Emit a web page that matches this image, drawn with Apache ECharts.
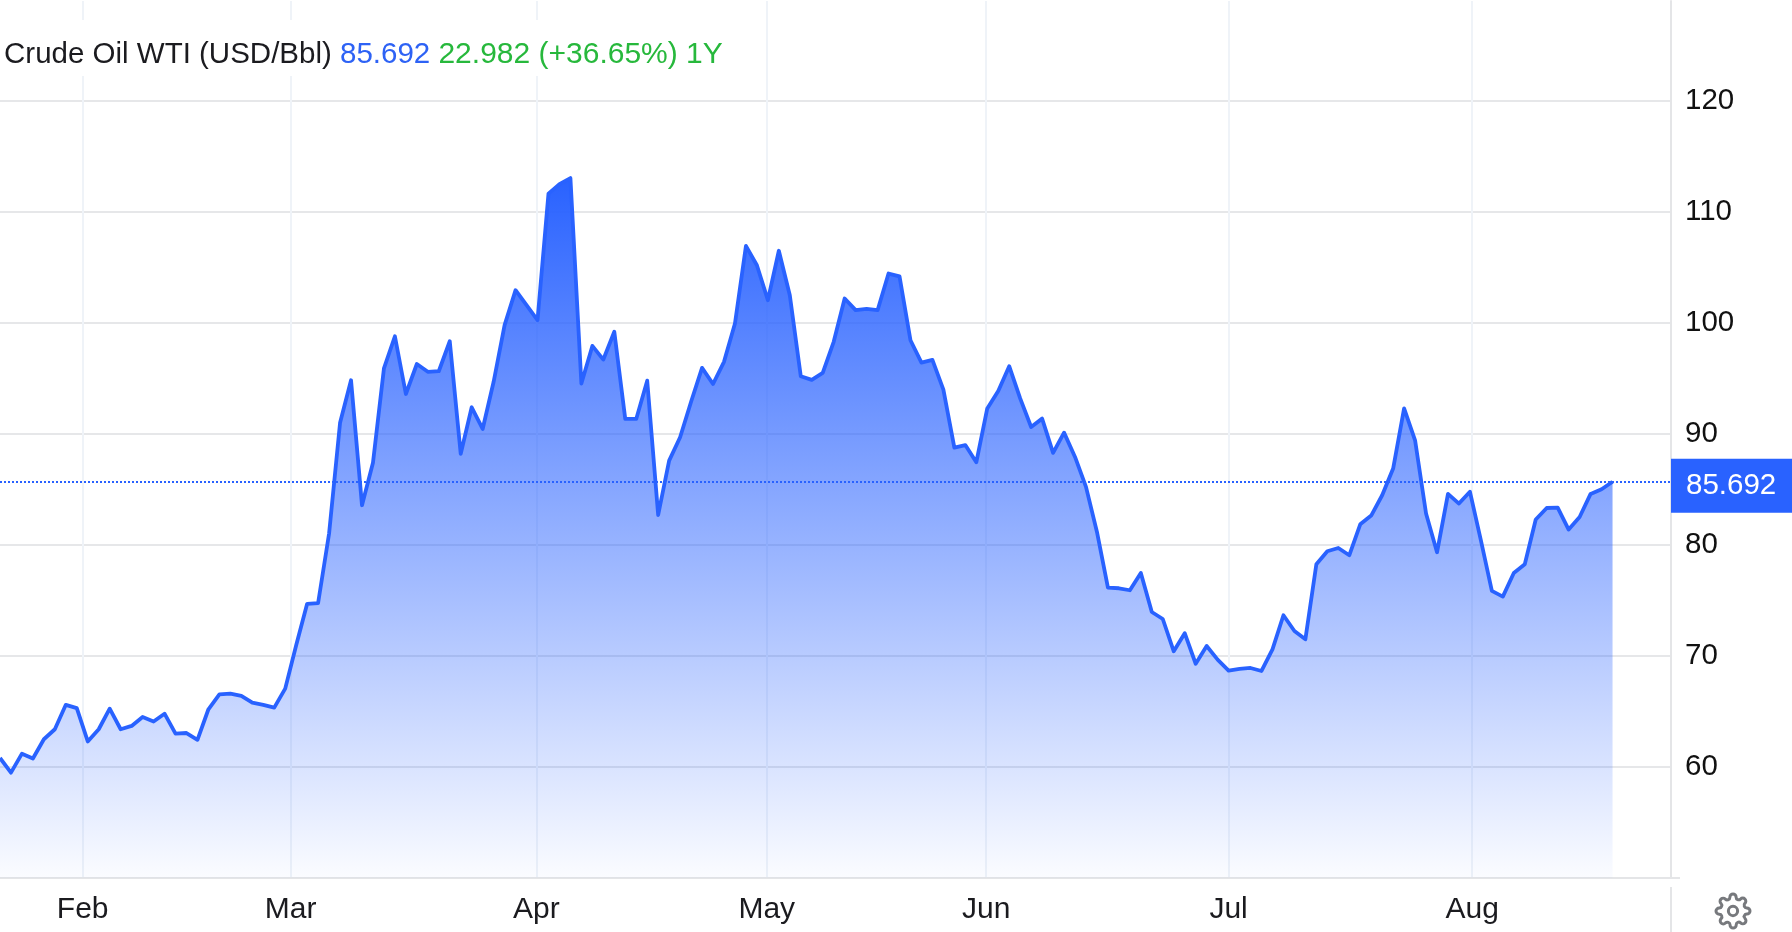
<!DOCTYPE html>
<html>
<head>
<meta charset="utf-8">
<style>html,body{margin:0;padding:0;background:#fff;}#c{width:1792px;height:932px;}</style>
<script src="https://cdn.jsdelivr.net/npm/echarts@6/dist/echarts.min.js"></script>
</head>
<body>
<div id="c"></div>
<script>
const prices = [
60.81,59.49,61.2,60.76,62.5,63.4,65.6,65.3,62.3,63.4,65.25,63.4,63.7,64.5,64.1,64.8,63.0,63.06,62.45,65.2,
66.55,66.6,66.4,65.8,65.6,65.35,67.06,70.96,74.7,74.77,81.03,91.0,94.84,83.58,87.4,95.9,98.8,93.6,96.3,95.6,
95.65,98.35,88.2,92.4,90.45,94.7,99.8,102.95,101.6,100.25,111.65,112.5,113.05,94.54,97.93,96.7,99.2,91.35,91.35,94.8,
82.7,87.6,89.7,92.9,95.95,94.5,96.5,99.95,106.94,105.2,102.05,106.5,102.5,95.2,94.87,95.5,98.3,102.2,101.15,101.27,
101.15,104.45,104.2,98.44,96.43,96.67,94.0,88.77,89.0,87.45,92.3,93.87,96.1,93.2,90.63,91.38,88.3,90.12,87.93,85.23,
81.17,76.16,76.1,75.92,77.48,73.96,73.33,70.42,72.05,69.3,70.9,69.67,68.68,68.83,68.92,68.65,70.6,73.67,72.25,71.5,
78.26,79.43,79.73,79.07,81.86,82.65,84.48,86.88,92.3,89.43,82.83,79.34,84.6,83.73,84.8,80.42,75.86,75.35,77.48,78.26,
82.29,83.33,83.37,81.39,82.52,84.6,85.02,85.692
];
const monthLabels = ['Feb','Mar','Apr','May','Jun','Jul','Aug'];
const monthTicks = [7.54,26.5,48.9,69.9,89.9,112,134.2];
const lastPrice = 85.692;
const headerName = 'Crude Oil WTI (USD/Bbl)';
const headerPrice = '85.692';
const headerChange = '22.982 (+36.65%) 1Y';

const BLUE = '#2962ff';
const FONT = '"Liberation Sans", Arial, sans-serif';
const gear = 'M12 15a3 3 0 1 0 0-6 3 3 0 0 0 0 6z M19.4 15a1.65 1.65 0 0 0 .33 1.82l.06.06a2 2 0 0 1 0 2.83 2 2 0 0 1-2.83 0l-.06-.06a1.65 1.65 0 0 0-1.82-.33 1.65 1.65 0 0 0-1 1.51V21a2 2 0 0 1-2 2 2 2 0 0 1-2-2v-.09A1.65 1.65 0 0 0 9 19.4a1.65 1.65 0 0 0-1.82.33l-.06.06a2 2 0 0 1-2.83 0 2 2 0 0 1 0-2.83l.06-.06a1.65 1.65 0 0 0 .33-1.82 1.65 1.65 0 0 0-1.51-1H3a2 2 0 0 1-2-2 2 2 0 0 1 2-2h.09A1.65 1.65 0 0 0 4.6 9a1.65 1.65 0 0 0-.33-1.82l-.06-.06a2 2 0 0 1 0-2.83 2 2 0 0 1 2.83 0l.06.06a1.65 1.65 0 0 0 1.82.33H9a1.65 1.65 0 0 0 1-1.51V3a2 2 0 0 1 2-2 2 2 0 0 1 2 2v.09a1.65 1.65 0 0 0 1 1.51 1.65 1.65 0 0 0 1.82-.33l.06-.06a2 2 0 0 1 2.83 0 2 2 0 0 1 0 2.83l-.06.06a1.65 1.65 0 0 0-.33 1.82V9a1.65 1.65 0 0 0 1.51 1H21a2 2 0 0 1 2 2 2 2 0 0 1-2 2h-.09a1.65 1.65 0 0 0-1.51 1z';

const chart = echarts.init(document.getElementById('c'), null, {renderer:'canvas'});
chart.setOption({
  animation:false,
  backgroundColor:'#ffffff',
  title:{
    left:0, top:20,
    padding:[20,6,6,4],
    backgroundColor:'#ffffff',
    text:'{n|'+headerName+'} {p|'+headerPrice+'} {c|'+headerChange+'}',
    textStyle:{
      fontFamily:FONT,fontWeight:'normal',fontSize:29.5,
      rich:{
        n:{fontFamily:FONT,fontSize:29.5,color:'#1b1b1f',lineHeight:30},
        p:{fontFamily:FONT,fontSize:29.5,color:'#2d62f5',lineHeight:30},
        c:{fontFamily:FONT,fontSize:30,color:'#27b83c',lineHeight:30}
      }
    }
  },
  grid:{left:0,right:121,top:1,bottom:54,containLabel:false},
  xAxis:{
    type:'value',min:0,max:152.33,
    axisLine:{show:true,onZero:false,lineStyle:{color:'#e4e5e7',width:2}},
    axisTick:{show:false,customValues:monthTicks},
    splitLine:{show:true,lineStyle:{color:'#eff3f8',width:2}},
    axisLabel:{
      customValues:monthTicks,margin:17,
      color:'#1b1b1f',fontFamily:FONT,fontSize:30,
      formatter:v=>monthLabels[monthTicks.indexOf(v)]
    }
  },
  yAxis:{
    type:'value',position:'right',min:50,max:129,interval:10,
    axisLine:{show:true,onZero:false,lineStyle:{color:'#e4e5e7',width:2}},
    axisTick:{show:false},
    splitLine:{show:true,showMinLine:false,showMaxLine:false,lineStyle:{color:'#e6e7e9',width:2}},
    axisLabel:{
      margin:14,showMinLabel:false,showMaxLabel:false,
      color:'#111',fontFamily:FONT,fontSize:29.5,padding:[0,0,3,0]
    }
  },
  series:[{
    type:'line',
    data:prices.map((v,i)=>[i,v]),
    showSymbol:false,
    smooth:false,
    clip:true,
    lineStyle:{color:BLUE,width:3.8,join:'round'},
    areaStyle:{
      origin:'start',opacity:1,
      color:new echarts.graphic.LinearGradient(0,0,0,1,[
        {offset:0,color:'rgba(41,98,255,1)'},
        {offset:1,color:'rgba(41,98,255,0.02)'}
      ])
    },
    markLine:{
      silent:true,symbol:'none',animation:false,
      lineStyle:{color:BLUE,type:'dotted',width:2},
      label:{
        show:true,position:'end',distance:0,
        formatter:String(lastPrice),
        color:'#fff',fontFamily:FONT,fontSize:29.5,
        backgroundColor:BLUE,
        padding:[16,16,8,15],
        offset:[0,4]
      },
      data:[{yAxis:lastPrice}]
    }
  },{
    type:'custom',
    coordinateSystem:'none',
    silent:true,
    data:[[0]],
    renderItem:function(){
      return {type:'path',
        shape:{pathData:gear,layout:'center',x:1716,y:894,width:34,height:34},
        style:{fill:'none',stroke:'#77797d',lineWidth:3}};
    }
  }],
  graphic:[
    {type:'line',silent:true,shape:{x1:1671,y1:887,x2:1671,y2:932},style:{stroke:'#e4e5e7',lineWidth:2}},
    {type:'line',silent:true,shape:{x1:1671,y1:878,x2:1680,y2:878},style:{stroke:'#e4e5e7',lineWidth:2}}
  ]
});
</script>
</body>
</html>
